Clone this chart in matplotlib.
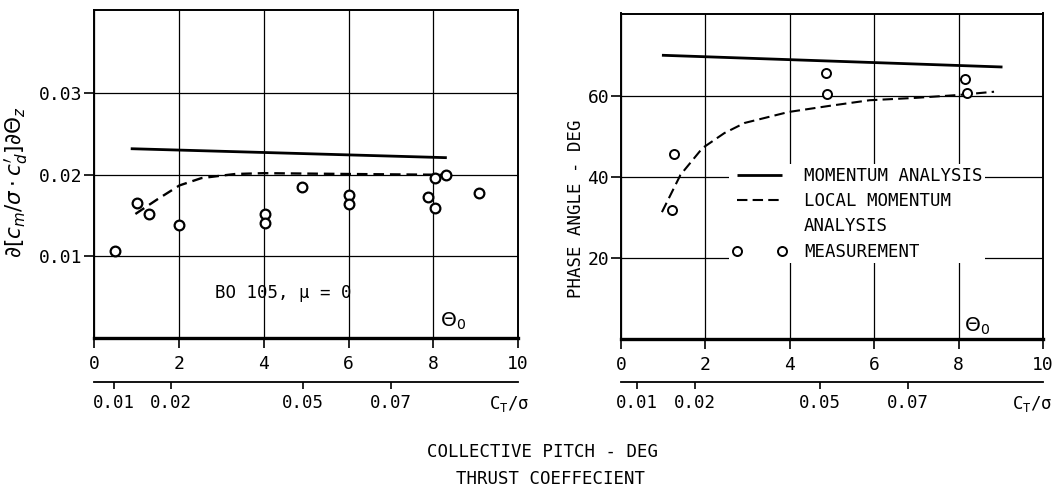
import matplotlib
matplotlib.use("Agg")
import matplotlib.pyplot as plt
from matplotlib.lines import Line2D

plt.rcParams['font.family'] = ['DejaVu Sans Mono', 'DejaVu Sans']
plt.rcParams['mathtext.fontset'] = 'dejavusans'

# Collective pitch axis (deg)
pitch_ticks = [0, 2, 4, 6, 8, 10]
pitch_tick_labels = ['0', '2', '4', '6', '8', '10']

# Thrust coefficient scale shown under each pitch axis
ct_labels = ['0.01', '0.02', '0.05', '0.07']
left_ct_pitch = [0.47, 1.80, 4.92, 7.00]
right_ct_pitch = [0.37, 1.75, 4.72, 6.79]
left_ct_name_pitch = 9.80
right_ct_name_pitch = 9.74

# Left panel: damping derivative
left_yticks = [0.01, 0.02, 0.03]
left_ytick_labels = ['0.01', '0.02', '0.03']
left_meas_pitch = [0.50, 1.01, 1.29, 2.01, 4.03, 4.03, 4.90, 6.02, 6.02,
                   7.87, 8.04, 8.04, 8.30, 9.07]
left_meas_val = [0.0107, 0.0166, 0.0152, 0.0139, 0.0152, 0.0141, 0.0185,
                 0.0175, 0.0164, 0.0173, 0.0196, 0.0159, 0.0200, 0.0178]
left_mom_pitch = [0.86, 8.32]
left_mom_val = [0.0232, 0.0221]
left_local_pitch = [0.97, 1.49, 2.01, 2.53, 3.00, 3.33, 4.00, 6.00, 8.28]
left_local_val = [0.0152, 0.0170, 0.0187, 0.0196, 0.0199, 0.0201, 0.0202,
                  0.0201, 0.0200]

# Right panel: phase angle (deg)
right_yticks = [20, 40, 60]
right_ytick_labels = ['20', '40', '60']
right_meas_pitch = [1.25, 1.21, 4.85, 4.89, 8.16, 8.20]
right_meas_val = [45.6, 31.9, 65.6, 60.4, 64.1, 60.8]
right_mom_pitch = [0.97, 9.04]
right_mom_val = [70.0, 67.1]
right_local_pitch = [0.97, 1.41, 1.93, 2.45, 2.93, 3.97, 4.93, 5.89, 7.00,
                     8.00, 8.84]
right_local_val = [31.3, 40.5, 47.1, 50.8, 53.3, 56.0, 57.5, 58.9, 59.5,
                   60.2, 61.0]

legend_labels = ['MOMENTUM ANALYSIS', 'LOCAL MOMENTUM', 'ANALYSIS',
                 'MEASUREMENT']

W, H = 1059, 496
fig = plt.figure(figsize=(W / 100, H / 100), dpi=100)


def px_box(x0, y0, x1, y1):
    return [x0 / W, 1 - y1 / H, (x1 - x0) / W, (y1 - y0) / H]


ax_l = fig.add_axes(px_box(94.3, 10, 518, 338))
ax_r = fig.add_axes(px_box(621, 13.5, 1043, 339))

FS = 12.5


def style(ax, yticks, ylabels, ylim):
    ax.set_xlim(0, 10)
    ax.set_ylim(*ylim)
    ax.set_xticks(pitch_ticks)
    ax.set_xticklabels(pitch_tick_labels)
    ax.set_yticks(yticks)
    ax.set_yticklabels(ylabels)
    ax.grid(True, color='black', lw=0.9)
    ax.set_axisbelow(True)
    for s in ax.spines.values():
        s.set_linewidth(1.4)
    ax.spines['bottom'].set_linewidth(2.4)
    ax.tick_params(axis='x', direction='out', length=7, width=1.2,
                   labelsize=FS + 0.5, pad=5, color='black')
    ax.tick_params(axis='y', direction='out', length=7, width=1.2,
                   labelsize=FS + 0.5, pad=1.5, color='black')


style(ax_l, left_yticks, left_ytick_labels, (0, 0.0402))
style(ax_r, right_yticks, right_ytick_labels, (0, 80.3))

# Left panel curves and measurements
ax_l.plot(left_mom_pitch, left_mom_val, color='black', lw=2.0,
          solid_capstyle='butt')
ax_l.plot(left_local_pitch, left_local_val, color='black', lw=1.7,
          ls=(0, (4.5, 2.5)))
ax_l.plot(left_meas_pitch, left_meas_val, ls='none', marker='o', ms=7,
          mfc='white', mec='black', mew=1.6, clip_on=False, zorder=5)
ax_l.text(2.85, 0.0055, 'BO 105, μ = 0', fontsize=FS, va='center',
          ha='left')
ax_l.text(8.47, 0.0021, r'$\Theta_0$', fontsize=FS + 2, va='center',
          ha='center')
ax_l.set_ylabel(r"$\partial[c_m/\sigma\cdot c_d^{\prime}]\partial\Theta_z$",
                fontsize=15.5)
ax_l.yaxis.set_label_coords(-0.151, 0.476)

# Right panel curves and measurements
h_mom, = ax_r.plot(right_mom_pitch, right_mom_val, color='black', lw=2.0,
                   solid_capstyle='butt')
h_loc, = ax_r.plot(right_local_pitch, right_local_val, color='black',
                   lw=1.5, ls=(0, (5, 2.5)))
h_meas, = ax_r.plot(right_meas_pitch, right_meas_val, ls='none', marker='o',
                    ms=6.5, mfc='white', mec='black', mew=1.4, zorder=5)
ax_r.text(8.44, 3.2, r'$\Theta_0$', fontsize=FS + 2, va='center',
          ha='center')
ax_r.set_ylabel('PHASE ANGLE - DEG', fontsize=FS)
ax_r.yaxis.set_label_coords(-0.085, 0.40)

blank = Line2D([], [], ls='none')
leg = ax_r.legend([h_mom, h_loc, blank, h_meas], legend_labels,
                  loc='upper left', bbox_to_anchor=(0.257, 0.537),
                  borderaxespad=0, borderpad=0.15, handlelength=3.2,
                  handletextpad=0.95, labelspacing=0.42, numpoints=2,
                  frameon=True, fancybox=False, framealpha=1,
                  fontsize=FS)
leg.get_frame().set_facecolor('white')
leg.get_frame().set_linewidth(0)


def ct_axis(ax, y_px, tick_pitch, name_pitch):
    pos = ax.get_position()
    sa = fig.add_axes([pos.x0, 1 - y_px / H, pos.width, 1e-4])
    sa.set_xlim(0, 10)
    sa.set_yticks([])
    for k in ('top', 'left', 'right'):
        sa.spines[k].set_visible(False)
    sa.spines['bottom'].set_linewidth(1.3)
    sa.patch.set_visible(False)
    sa.set_xticks(list(tick_pitch) + [name_pitch])
    sa.set_xticklabels(ct_labels + [r'$\mathregular{C_T/\sigma}$'])
    sa.tick_params(direction='out', length=5, width=1.2, labelsize=FS,
                   pad=4)
    sa.xaxis.get_major_ticks()[-1].tick1line.set_visible(False)
    return sa


ct_axis(ax_l, 381.7, left_ct_pitch, left_ct_name_pitch)
ct_axis(ax_r, 381.7, right_ct_pitch, right_ct_name_pitch)

fig.text(542.5 / W, 1 - 452 / H, 'COLLECTIVE PITCH - DEG', fontsize=FS,
         ha='center', va='center')
fig.text(550 / W, 1 - 479 / H, 'THRUST COEFFECIENT', fontsize=FS,
         ha='center', va='center')

fig.savefig('out.png', dpi=100, facecolor='white')
